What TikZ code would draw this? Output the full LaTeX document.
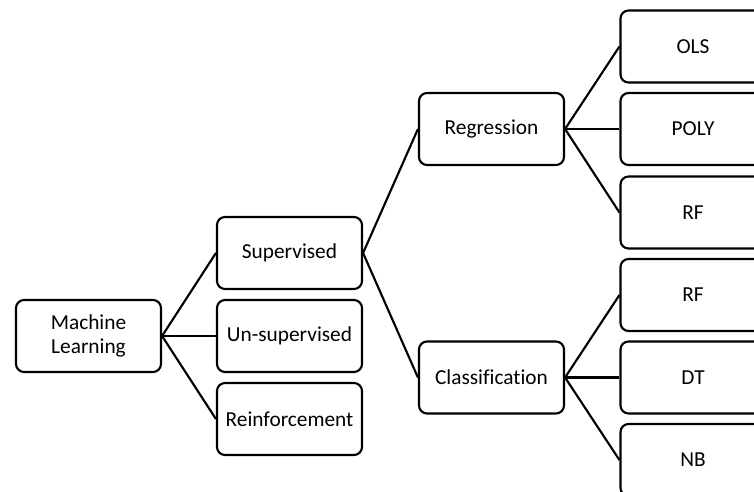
\documentclass[tikz,border=0pt]{standalone}
\usepackage{fontspec}
\setmainfont[Ligatures=NoCommon]{Carlito}
\begin{document}
\begin{tikzpicture}[x=0.75pt,y=-0.75pt,
  box/.style={draw=black,line width=1.6pt,rounded corners=6pt,fill=white,
    minimum width=108.75pt,minimum height=54pt,inner sep=0pt,align=center,
    font=\fontsize{16}{18}\selectfont},
  conn/.style={draw=black,line width=1.6pt}]
\useasboundingbox (0,0) rectangle (754,492);
\clip (0,0) rectangle (754,492);
\node[box] (ml) at (88.5,336) {Machine\\Learning};
\node[box] (sup) at (289.5,253) {Supervised};
\node[box] (uns) at (289.5,336) {Un-supervised};
\node[box] (rei) at (289.5,419) {Reinforcement};
\node[box] (reg) at (491.5,129) {Regression};
\node[box] (cla) at (491.5,377.5) {Classification};
\node[box] (ols) at (693,46.5) {OLS};
\node[box] (poly) at (693,129) {POLY};
\node[box] (rf1) at (693,212.5) {RF};
\node[box] (rf2) at (693,295) {RF};
\node[box] (dt) at (693,377.5) {DT};
\node[box] (nb) at (693,460) {NB};
\draw[conn] (ml.east) -- (sup.west);
\draw[conn] (ml.east) -- (uns.west);
\draw[conn] (ml.east) -- (rei.west);
\draw[conn] (sup.east) -- (reg.west);
\draw[conn] (sup.east) -- (cla.west);
\draw[conn] (reg.east) -- (ols.west);
\draw[conn] (reg.east) -- (poly.west);
\draw[conn] (reg.east) -- (rf1.west);
\draw[conn] (cla.east) -- (rf2.west);
\draw[conn] (cla.east) -- (dt.west);
\draw[conn] (cla.east) -- (nb.west);
\end{tikzpicture}
\end{document}
